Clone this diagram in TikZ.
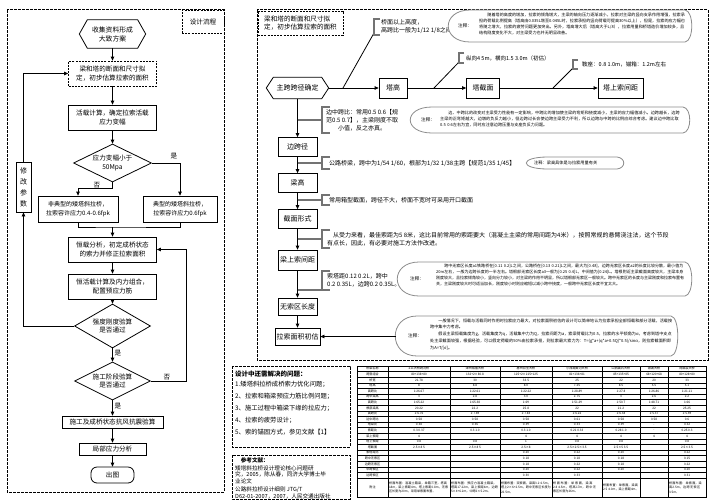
\documentclass[tikz,border=0pt]{standalone}
\usepackage{fontspec}
\setmainfont{Noto Sans CJK SC}
\XeTeXlinebreaklocale "zh"
\XeTeXlinebreakskip=0pt plus 0.5pt
\usetikzlibrary{arrows.meta,shapes.geometric}
\newcommand\fz[2]{\fontsize{#1}{#2}\selectfont}
\newcommand\callout[4]{\draw[co] ({#1+22},#3) -- ({#2-7},#3) .. controls ({#2+2},{#3+1}) and ({#2+2},{#4-1}) .. ({#2-7},#4) -- ({#1+22},#4) .. controls ({#1-7},#4) and ({#1-7},#3) .. ({#1+22},#3) -- cycle;}
\newcommand\trow[9]{%
  \pgfmathsetmacro\rowy{366+(#1-0.5)*5.6}%
  \node[cell] (t#1a) at (372.5,\rowy) {#2};
  \node[cell] (t#1b) at (419,\rowy) {#3};
  \node[cell] (t#1c) at (475,\rowy) {#4};
  \node[cell] (t#1d) at (526,\rowy) {#5};
  \node[cell] (t#1e) at (577,\rowy) {#6};
  \node[cell] (t#1f) at (621,\rowy) {#7};
  \node[cell] (t#1g) at (654,\rowy) {#8};
  \node[cell] (t#1h) at (687,\rowy) {#9};}
\begin{document}
\begin{tikzpicture}[x=1pt,y=-1pt,
  bx/.style={draw, line width=0.8pt, inner sep=0pt, align=center, font=\fz{6.6}{8.6}},
  dbx/.style={bx, dash pattern=on 2pt off 1.2pt},
  frame/.style={line width=1pt, dash pattern=on 2.6pt off 1.4pt},
  arr/.style={line width=0.8pt, -{Triangle[length=4pt,width=3.6pt]}},
  ln/.style={line width=0.8pt},
  brk/.style={draw=black!55, line width=1.4pt},
  co/.style={draw=black!45, line width=0.8pt, fill=white},
  lab/.style={font=\fz{6.6}{7}, inner sep=0pt},
  note/.style={font=\fz{4.1}{6.2}, align=left, inner sep=0pt, anchor=north west},
  zs/.style={font=\fz{4.6}{5}, inner sep=0pt, anchor=west},
  cell/.style={font=\fz{3.1}{3.5}, inner sep=0pt},
  btxt/.style={font=\fz{6}{8}, inner sep=0pt, anchor=west, align=left},
  tb/.style={bx, font=\fz{7}{8}, minimum width=39, minimum height=19},
]
\useasboundingbox (0,0) rectangle (711,503);
\fill[white] (0,0) rectangle (711,503);

%================ LEFT PANEL =================
\draw[frame] (7,10) rectangle (224,492);
\node[dbx, minimum width=42, minimum height=23] (flowtitle) at (203,22) {设计流程};

\node[minimum width=66, minimum height=28, inner sep=0pt, align=center, font=\fz{6.8}{9}] (collect) at (112.5,34) {收集资料形成\\大致方案};
\draw[ln] (collect.west) -- ([xshift=8pt]collect.north west) -- ([xshift=-8pt]collect.north east) -- (collect.east) -- ([xshift=-8pt]collect.south east) -- ([xshift=8pt]collect.south west) -- cycle;

\node[dbx, minimum width=88, minimum height=25] (size) at (112.5,73.5) {梁和塔的断面和尺寸拟\\定，初步估算拉索的面积};
\node[bx, minimum width=88, minimum height=25] (live) at (112.5,117.5) {活载计算，确定拉索活载\\应力变幅};
\node[bx, diamond, aspect=2, minimum width=78, minimum height=38] (d1) at (112.5,163) {应力变幅小于\\50Mpa};
\node[bx, font=\fz{6}{8.4}, minimum width=80, minimum height=26] (atyp) at (78,209) {非典型的矮塔斜拉桥，\\拉索容许应力0.4-0.6fpk};
\node[bx, font=\fz{6}{8.4}, minimum width=74, minimum height=26] (typ) at (180,209) {典型的矮塔斜拉桥，\\拉索容许应力0.6fpk};
\node[bx, font=\fz{7}{11}, minimum width=15, minimum height=50] (modify) at (23.5,187) {修\\改\\参\\数};
\node[bx, minimum width=88, minimum height=25] (dead) at (112.5,249.5) {恒载分析，初定成桥状态\\的索力并修正拉索面积};
\node[bx, minimum width=88, minimum height=25] (comb) at (112.5,286.5) {恒活载计算及内力组合，\\配置预应力筋};
\node[bx, diamond, aspect=2, minimum width=76, minimum height=44] (d2) at (112.5,326) {强度刚度验算\\是否通过};
\node[bx, diamond, aspect=2, minimum width=76, minimum height=38] (d3) at (112.5,381) {施工阶段验算\\是否通过};
\node[bx, minimum width=101, minimum height=12] (wind) at (112.5,422) {施工及成桥状态抗风抗震验算};
\node[bx, minimum width=67, minimum height=12] (local) at (112.5,449) {局部应力分析};
\node[bx, rounded corners=6pt, minimum width=43, minimum height=16] (out) at (112.5,475) {出图};

\coordinate (merge) at (112.5,227);
\draw[arr] (collect.south) -- (size.north);
\draw[arr] (size.south) -- (live.north);
\draw[arr] (live.south) -- (d1.north);
\draw[arr] (d1.south) -- ++(0,6) -| (atyp.north);
\draw[arr] (d1.east) -| (typ.north);
\draw[ln] (atyp.south) |- (merge) -| (typ.south);
\draw[arr] (merge) -- (dead.north);
\draw[arr] (dead.south) -- (comb.north);
\draw[arr] (comb.south) -- (d2.north);
\draw[arr] (d2.west) -| (modify.south);
\draw[arr] (modify.north) |- (size.west);
\draw[arr] (d2.south) -- (d3.north);
\draw[arr] (d3.east) -- ++(35,0) |- (dead.east);
\draw[arr] (d3.south) -- (wind.north);
\draw[arr] (wind.south) -- (local.north);
\draw[arr] (local.south) -- (out.north);

\node[lab] (yes1) at (174,156) {是};
\node[lab] (no1) at (97,185) {否};
\node[lab] (yes2) at (118,353) {是};
\node[lab] (no3) at (167,377) {否};
\node[lab] (yes3) at (118,406) {是};

%================ RIGHT PANEL =================
\draw[frame] (257,10) rectangle (708,360);
\node[dbx, align=left, minimum width=85, minimum height=24] (size2) at (300.5,23) {梁和塔的断面和尺寸拟\\定，初步估算拉索的面积};

\node[minimum width=62, minimum height=21, inner sep=0pt, font=\fz{7}{8}] (span) at (297.5,88) {主跨跨径确定};
\draw[ln] (span.west) -- ([xshift=7pt]span.north west) -- ([xshift=-7pt]span.north east) -- (span.east) -- ([xshift=-7pt]span.south east) -- ([xshift=7pt]span.south west) -- cycle;

\node[tb, minimum width=28, minimum height=20] (tower) at (393,88) {塔高};
\node[tb, minimum width=33, minimum height=20] (tsec) at (483,88) {塔截面};
\node[tb, minimum width=45, minimum height=20] (tspace) at (620.5,88) {塔上索间距};
\draw[arr] (span.east) -- (tower.west);
\draw[arr] (tower.east) -- (tsec.west);
\draw[arr] (tsec.east) -- (tspace.west);

% branch: tower height
\coordinate (b1) at (343,88);
\coordinate (k1) at (374,33);
\draw[ln] (b1) -- (k1);
\draw[brk] (380,19) -- (374,19) -- (374,35) -- (380,35);
\node[btxt] (t1) at (381,27) {桥面以上高度，\\高跨比一般为1/12~1/8之间};
\callout{448}{692}{10}{42}
\node[zs] (c1h) at (458,26) {注释：};
\node[note, text width=206] (c1t) at (479,12.5) {　　随着塔的高度的增加，拉索的倾角增大，主梁的轴向压力逐渐减小，拉索对主梁的竖向支承作用增强，拉索承担的荷载比例提高（塔高由0.035L增至0.045L时，拉索承担的竖向荷载可提高30\%以上），但是，拉索的应力幅也将随之增大，拉索的疲劳问题更加突出。另外，塔高增大后（塔高大于L/8），拉索用量和桥塔造价增加较多，且结构刚度变化不大，对主梁受力也并无明显改善。};

% branch: tower section
\coordinate (b2) at (434,88);
\coordinate (k2) at (459,62);
\draw[ln] (b2) -- (k2);
\draw[brk] (464,53) -- (459,53) -- (459,63) -- (464,63);
\node[btxt, font=\fz{5.5}{6}] (t2) at (466,58) {纵向4~5m，横向1.5~3.0m（初估）};

% branch: cable spacing on tower
\coordinate (b3) at (553,88);
\coordinate (k3) at (573,68);
\draw[ln] (b3) -- (k3);
\draw[brk] (578,60) -- (573,60) -- (573,69) -- (578,69);
\node[btxt, font=\fz{5.5}{6}] (t3) at (582,64.5) {鞍座：0.8~1.0m，锚箱：1.2m左右};

% trunk
\node[tb] (side) at (297.5,147) {边跨径};
\node[tb] (gh) at (297.5,183) {梁高};
\node[tb] (sec) at (297.5,219) {截面形式};
\node[tb, minimum height=20] (bsp) at (297.5,260) {梁上索间距};
\node[tb, minimum height=17] (nocable) at (297.5,306.5) {无索区长度};
\node[tb, minimum width=45, minimum height=17] (area) at (297.5,336.5) {拉索面积初估};
\draw[arr] (span.south) -- (side.north);
\draw[arr] (side.south) -- (gh.north);
\draw[arr] (gh.south) -- (sec.north);
\draw[arr] (sec.south) -- (bsp.north);
\draw[arr] (bsp.south) -- (nocable.north);
\draw[arr] (nocable.south) -- (area.north);

% side span ratio
\coordinate (j1) at (297.5,120);
\draw[brk] (j1) -- (322,120);
\draw[brk] (330,107) -- (322,107) -- (322,133) -- (330,133);
\node[btxt, align=center] (t4) at (326,120) {边中跨比：常用0.5~0.6【规\\范0.5~0.7】，主梁刚度不取\\小值，反之亦真。};
\callout{410}{690}{107}{133}
\node[zs] (c2h) at (421,120) {注释：};
\node[note, text width=240] (c2t) at (440,110.5) {　　边、中跨比的改变对主梁受力性能有一定影响，中跨比的增加使主梁的弯矩和挠度减小，主梁的应力幅值减小。边跨越长，边跨主梁的正弯矩越大，边墩的负反力越小，但边跨过长会使边跨主梁受力不利，所以边跨与中跨的比例应综合考虑。建议边中跨比取0.5~0.6左右为宜，同时应注意边跨压重与支座负反力问题。};

% girder height
\coordinate (j2) at (297.5,163);
\draw[brk] (j2) -- (322,163);
\draw[brk] (330,157) -- (322,157) -- (322,169) -- (330,169);
\node[btxt] (t5) at (329,163) {公路桥梁，跨中为1/54~1/60，根部为1/32~1/38主跨【规范1/35~1/45】};
\callout{526}{624}{157}{169}
\node[zs, font=\fz{4.2}{5}] (c3t) at (534,163) {注释：梁高具体是与拉索用量有关};

% section form
\coordinate (j3) at (297.5,200);
\draw[brk] (j3) -- (322,200);
\draw[brk] (330,195) -- (322,195) -- (322,205) -- (330,205);
\node[btxt] (t6) at (329,200) {常用箱型截面，跨径不大，桥面不宽时可采用开口截面};

% cable spacing on girder
\coordinate (j4) at (297.5,239);
\draw[brk] (j4) -- (322,239);
\draw[brk] (330,230) -- (322,230) -- (322,248) -- (330,248);
\node[btxt, font=\fz{6}{8.5}] (t7) at (327,239) {　从受力来看，最佳索距为5~8米，这比目前常用的索距要大（混凝土主梁的常用间距为4米），按照常规的悬臂浇注法，这个节段\\有点长，因此，有必要对施工方法作改进。};

% cable-free zone
\coordinate (j5) at (297.5,290);
\draw[brk] (j5) -- (322,290);
\draw[brk] (330,271) -- (322,271) -- (322,290) -- (330,290);
\node[btxt, font=\fz{6}{8}] (t8) at (327,280.5) {索塔距0.12~0.2L，跨中\\0.2~0.35L，边跨0.2~0.35L。};
\callout{397}{692}{262}{296}
\node[zs] (c4h) at (410,279) {注释：};
\node[note, font=\fz{4}{6}, text width=248] (c4t) at (436,264) {　　跨中无索区长度a1铁路桥在[0.11~0.2]L之间，公路桥在[0.13~0.21]L之间，最大为[0.48]，边跨无索区长度a2的长度比较分散，最小值为20m左右，一般为边跨长度的一半左右。塔根部无索区长度a3一般为[0.25~0.4]L，中间值为[0.24]L。塔根附近主梁截面高度较大，主梁本身刚度较大，且拉索倾角较小，竖向分力较小，对主梁的作用不明显，所以塔根部无索区一般较大。跨中无索区的长度与主梁刚度和拉索布置有关，主梁刚度较大时可适当加长，刚度较小时则应缩短以减小跨中挠度，一般跨中无索区长度不宜太大。};

% cable area
\callout{395}{678}{316}{356}
\coordinate (c5w) at (395.5,336.5);
\draw[arr] (c5w) -- (area.east);
\node[zs] (c5h) at (408,336) {注释：};
\node[note, font=\fz{4.1}{6.8}, text width=242] (c5t) at (430,318.5) {　　一般情况下，恒载与活载同时作用时拉索应力最大，对拉索面积初估的设计可以简单地认为拉索承担全部恒载和部分活载，活载按跨中集中力考虑。\\　　假设主梁恒载集度为g，活载集度为q，活载集中力为Q，拉索间距为a，索梁荷载比为0.5，拉索的水平倾角为α，考虑到塔中支点处主梁截面较强，根据经验，可以假定荷载的50\%由拉索承担，则拉索最大索力为：T=(g*a+(q*a+0.5Q)*0.5)/sinα，则拉索截面积即为A=T/[σ]。};

%================ BOTTOM NOTES =================
\draw[frame] (232,366) rectangle (350,447);
\node[btxt, font=\fz{6.5}{8}] (qt) at (235,374) {\textbf{设计中还需解决的问题：}};
\node[btxt, font=\fz{6.3}{12}, anchor=north west] (qi) at (235,381) {1.矮塔斜拉桥成桥索力优化问题；\\2、拉索和箱梁预应力筋比例问题；\\3、施工过程中箱梁下缘的拉应力；\\4、拉索的疲劳设计；\\5、索的锚固方式，参见文献【1】};

\draw[frame] (232,455) rectangle (350,499);
\node[btxt, font=\fz{5.6}{6.6}, anchor=north west] (refs) at (235,457.5) {　\textbf{参考文献：}\\[1]矮塔斜拉桥设计理论核心问题研\\究，2005，陈从春，同济大学博士毕\\业论文\\[2]公路斜拉桥设计细则 JTG/T\\D62-01-2007，2007，人民交通出版社};

%================ TABLE =================
\draw[line width=0.9pt] (357,366) rectangle (706,497);
\foreach \i in {1,...,20} \draw[line width=0.4pt] (357,{366+\i*5.6}) -- (706,{366+\i*5.6});
\foreach \xx in {388,450,500,552,602,640,668} \draw[line width=0.4pt] (\xx,366) -- (\xx,497);
\trow{1}{桥梁名称}{211大桥跨河桥}{漳州战备大桥}{惠州合生大桥}{小西湖黄河大桥}{山西离石大桥}{银湖大桥}{荷麻溪大桥}
\trow{2}{跨度组合}{80+138+80}{132+2×80.8}{125+2×215+125}{81+136+81}{85+135+85}{68+120+68}{80+128+80}
\trow{3}{桥宽}{21.78}{30}{33.5}{25}{22}{20}{33}
\trow{4}{塔高}{8}{8.8}{8.0}{7.25}{8.5}{5.5}{5.1}
\trow{5}{高跨比}{1:26.67}{1:22.61}{1:22.22}{1:28.89}{1:27.8}{1:26.86}{1:21.11}
\trow{6}{跨中梁高}{3}{2.8}{3.0}{2.75}{3}{2.6}{2.2}
\trow{7}{高跨比}{1:65.22}{1:65.38}{1:69}{1:51.29}{1:50.7}{1:48.71}{1:66}
\trow{8}{根部梁高}{20.22}{22.2}{25.8}{22}{21.2}{22}{25.25}
\trow{9}{高跨比}{1:6.76}{1:7.69}{1:7.83}{1:6.22}{1:6.38}{1:5.37}{1:5.59}
\trow{10}{边中跨比}{0.58}{0.58}{0.58}{0.61}{0.58}{0.58}{0.6}
\trow{11}{塔梁比}{0.38}{0.36}{0.39}{0.33}{0.39}{-}{0.32}
\trow{12}{索距比}{0.3~0.37}{0.3~1.0}{0.3~1.0}{0.21~0.33}{0.28~1.0}{-}{0.25~0.3}
\trow{13}{梁上索距}{4}{}{4}{4}{4}{4}{4}
\trow{14}{塔上索距}{0.8}{0.8}{1}{0.8}{0.8}{}{0.8}
\trow{15}{塔截面}{2.5×8~5}{2.5×8~5}{2.5×8}{2.5×2.5×3.5}{2.5×5~3.5}{}{2.5×3.5}
\trow{16}{索塔距比}{}{}{0.20}{0.22}{0.20}{}{0.22}
\trow{17}{跨中无索区}{}{}{0.18}{0.18}{0.18}{}{0.15}
\trow{18}{边跨无索区}{}{}{0.18}{0.22}{0.18}{}{0.22}
\trow{19}{中跨索区}{}{}{0.20}{0.22}{0.20}{}{0.20}
\trow{20}{边跨索区}{}{}{0.30}{0.33}{}{}{0.31}
\node[cell] (t21a) at (372.5,487.5) {附注};
\node[cell, font=\fz{3.1}{4.3}, text width=60, align=left] (t21b) at (419,487.5) {桥面布置：混凝土箱梁，单箱三室，塔高18m，梁上索距4m，塔上索距0.8m，无索区长度为20m，采用单索面布置。};
\node[cell, font=\fz{3.1}{4.3}, text width=48, align=left] (t21c) at (475,487.5) {桥面布置：预应力混凝土箱梁，塔高17.22m，梁上索距4m，边跨5×4+6.2m，中跨2×5.2m。};
\node[cell, font=\fz{3.1}{4.3}, text width=50, align=left] (t21d) at (526,487.5) {桥面布置：双索面，梁高3.2~6.5m，塔上2×6+2.5m，跨中无索区长度为22.5m。};
\node[cell, font=\fz{3.1}{4.3}, text width=48, align=left] (t21e) at (577,487.5) {桥面布置：单索面，梁高2.8~4.5m，塔高17m，跨中无索区长度为26m。};
\node[cell, font=\fz{3.1}{4.3}, text width=36, align=left] (t21f) at (621,487.5) {桥面布置：单索面，梁高2.5~4.0m，梁上索距4m。};
\node[cell, font=\fz{3.1}{4.3}, text width=36, align=left] (t21h) at (687,487.5) {桥面布置：单索面，梁高2.5m，边跨无索区3.5m。};
\end{tikzpicture}
\end{document}
